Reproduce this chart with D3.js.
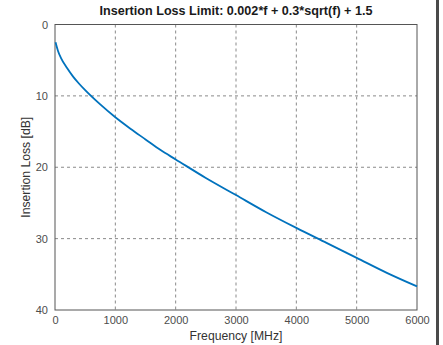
<!DOCTYPE html>
<html>
<head>
<meta charset="utf-8">
<script src="https://cdn.jsdelivr.net/npm/d3@7"></script>
<style>
  body { margin: 0; background: #fff; }
  svg { display: block; font-family: "Liberation Sans", Arial, sans-serif; }
  .grid line { stroke: #8a8a8a; stroke-dasharray: 3,3; stroke-width: 1; }
  .axis text { fill: #4d4d4d; font-size: 11px; }
</style>
</head>
<body>
<div id="chart"></div>
<script>
// DATA
// ------------------------------------------------------------------

// Frequency points [MHz] and insertion loss [dB]
var freq = [10, 50, 100, 200, 300, 400, 500, 750, 1000, 1250, 1500, 1750,
            2000, 2500, 3000, 3500, 4000, 4500, 5000, 5500, 6000];
var loss = [2.5, 3.7, 4.7, 6.1, 7.3, 8.3, 9.2, 11.2, 13.0, 14.6, 16.1, 17.6,
            18.9, 21.5, 23.9, 26.3, 28.5, 30.6, 32.7, 34.8, 36.7];

var xTicks = [0, 1000, 2000, 3000, 4000, 5000, 6000];
var yTicks = [0, 10, 20, 30, 40];

// CANVAS
// ------------------------------------------------------------------

var width = 443,
    height = 345;

var svg = d3.select("#chart")
    .append("svg")
    .attr("width", width)
    .attr("height", height);

var plotLeft = 55, plotRight = 417, plotTop = 24.5, plotBottom = 310;

// AXES
// ------------------------------------------------------------------

var xScale = d3.scaleLinear().domain([0, 6000]).range([plotLeft, plotRight]),
    yScale = d3.scaleLinear().domain([0, 40]).range([plotTop, plotBottom]);

// grid
svg.append("g")
    .attr("class", "grid")
    .selectAll("line")
    .data(xTicks.slice(1, -1))
    .enter().append("line")
    .attr("x1", function(d) { return xScale(d); })
    .attr("x2", function(d) { return xScale(d); })
    .attr("y1", plotTop)
    .attr("y2", plotBottom);

svg.append("g")
    .attr("class", "grid")
    .selectAll("line")
    .data(yTicks.slice(1, -1))
    .enter().append("line")
    .attr("x1", plotLeft)
    .attr("x2", plotRight)
    .attr("y1", function(d) { return yScale(d); })
    .attr("y2", function(d) { return yScale(d); });

var xAxis = d3.axisBottom(xScale).tickValues(xTicks).tickFormat(d3.format("d"))
        .tickSize(0).tickPadding(6),
    yAxis = d3.axisLeft(yScale).tickValues(yTicks).tickFormat(d3.format("d"))
        .tickSize(0).tickPadding(7);

svg.append("g")
    .attr("class", "axis")
    .attr("transform", "translate(0," + plotBottom + ")")
    .call(xAxis)
    .call(function(g) { g.select(".domain").remove(); });

svg.append("g")
    .attr("class", "axis")
    .attr("transform", "translate(" + plotLeft + ",0)")
    .call(yAxis)
    .call(function(g) { g.select(".domain").remove(); });

// plot box
svg.append("rect")
    .attr("x", plotLeft)
    .attr("y", plotTop)
    .attr("width", plotRight - plotLeft)
    .attr("height", plotBottom - plotTop)
    .attr("fill", "none")
    .attr("stroke", "#555")
    .attr("stroke-width", 1);

// LABELS
// ------------------------------------------------------------------

svg.append("text")
    .attr("x", (plotLeft + plotRight) / 2)
    .attr("y", 15)
    .attr("text-anchor", "middle")
    .attr("font-weight", "bold")
    .attr("font-size", "12.6px")
    .attr("fill", "#1a1a1a")
    .text("Insertion Loss Limit: 0.002*f + 0.3*sqrt(f) + 1.5");

svg.append("text")
    .attr("x", (plotLeft + plotRight) / 2)
    .attr("y", 340)
    .attr("text-anchor", "middle")
    .attr("font-size", "12.2px")
    .attr("fill", "#333")
    .text("Frequency [MHz]");

svg.append("text")
    .attr("transform", "rotate(-90)")
    .attr("x", -(plotTop + plotBottom) / 2)
    .attr("y", 30)
    .attr("text-anchor", "middle")
    .attr("font-size", "12.2px")
    .attr("fill", "#333")
    .text("Insertion Loss [dB]");

// CURVE
// ------------------------------------------------------------------

var line = d3.line()
    .x(function(d) { return xScale(d[0]); })
    .y(function(d) { return yScale(d[1]); })
    .curve(d3.curveMonotoneX);

svg.append("path")
    .datum(d3.zip(freq, loss))
    .attr("d", line)
    .attr("fill", "none")
    .attr("stroke", "#0072bd")
    .attr("stroke-width", 1.8);

// right edge bar
svg.append("rect")
    .attr("x", 436)
    .attr("y", 0)
    .attr("width", 3)
    .attr("height", height)
    .attr("fill", "#4a4a4a");
</script>
</body>
</html>
